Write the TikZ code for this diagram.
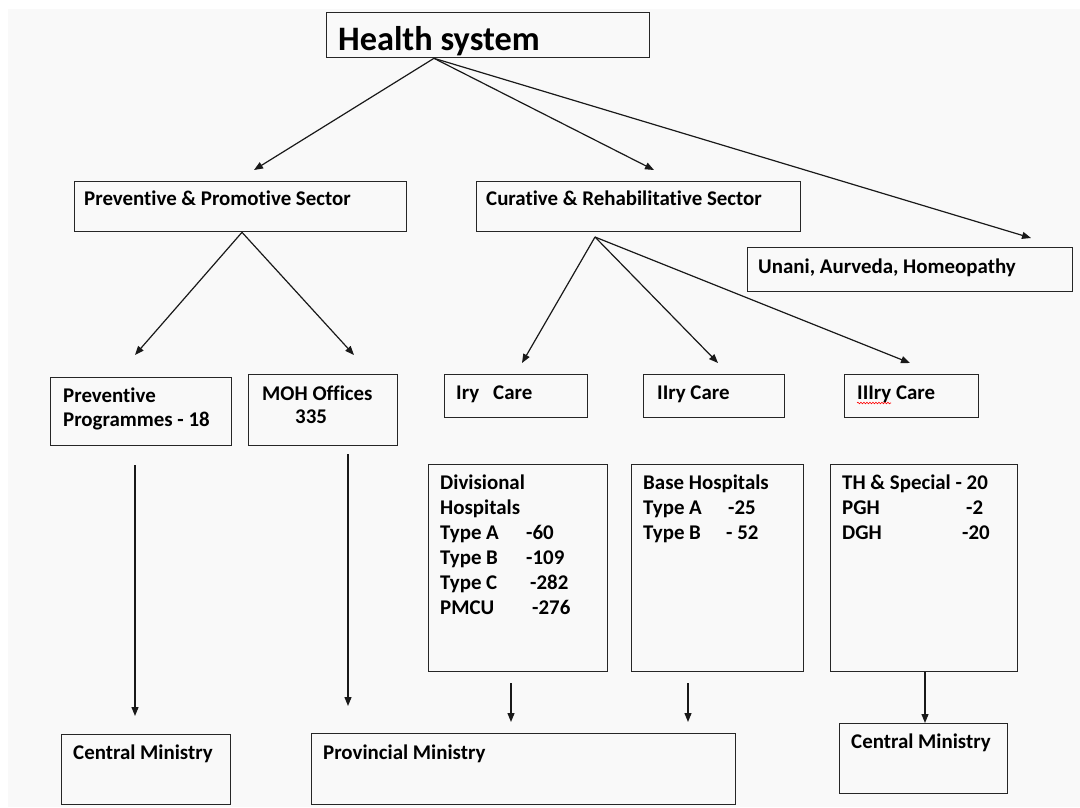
\documentclass[tikz,border=0pt]{standalone}
\usepackage{fontspec}
\setmainfont{Carlito}[Ligatures=NoCommon]
\usetikzlibrary{arrows.meta,decorations.pathmorphing}

\tikzset{
  box/.style={draw=black!85, line width=1.3pt, anchor=north west, inner sep=0pt},
  lbl/.style={anchor=base west, inner sep=0pt, align=left, font=\bfseries\fontsize{20.9}{25}\selectfont},
  link/.style={-{Triangle[length=9pt,width=7pt]}, line width=1.2pt, draw=black!90},
}

\begin{document}
\begin{tikzpicture}[x=1pt, y=-1pt]
  % Canvas
  \useasboundingbox (0,0) rectangle (1080,807);
  \fill[white] (0,0) rectangle (1080,807);
  \fill[black!2.5] (8,9) rectangle (1080,807);

  % Top box
  \node[box, minimum width=323pt, minimum height=45pt] (hs) at (326,12) {};
  \node[lbl, font=\bfseries\fontsize{34.3}{40}\selectfont] (hst) at (338,50) {Health system};

  % Sectors
  \node[box, minimum width=332pt, minimum height=50pt] (pps) at (74,181) {};
  \node[lbl] (ppst) at (84,205) {Preventive \& Promotive Sector};
  \node[box, minimum width=324pt, minimum height=50pt] (crs) at (476,181) {};
  \node[lbl] (crst) at (486,205) {Curative \& Rehabilitative Sector};
  \node[box, minimum width=325pt, minimum height=44pt] (uah) at (747,247) {};
  \node[lbl] (uaht) at (758,273) {Unani, Aurveda, Homeopathy};

  % Programmes, offices and care levels (multi-line texts sit on their last line)
  \node[box, minimum width=181pt, minimum height=68pt] (pp) at (50,377) {};
  \node[lbl, font=\bfseries\fontsize{20.9}{24}\selectfont] (ppt) at (63,426) {Preventive\\Programmes - 18};
  \node[box, minimum width=149pt, minimum height=71pt] (moh) at (248,374) {};
  \node[lbl, font=\bfseries\fontsize{20.9}{23}\selectfont] (moht) at (262,423) {MOH Offices\\\hspace*{33pt}335};
  \node[box, minimum width=143pt, minimum height=43pt] (ic) at (444,374) {};
  \node[lbl] (ict) at (456,399) {Iry\hspace{14pt}Care};
  \node[box, minimum width=141pt, minimum height=43pt] (iic) at (643,374) {};
  \node[lbl] (iict) at (657,399) {IIry Care};
  \node[box, minimum width=134pt, minimum height=43pt] (iiic) at (844,374) {};
  \node[lbl] (iiict) at (857,399) {IIIry Care};
  \draw[red, line width=0.6pt, decorate, decoration={snake, amplitude=0.8pt, segment length=3pt}]
    ([yshift=-4pt]iiict.base west) -- ++(34,0);

  % Hospitals
  \node[box, minimum width=179pt, minimum height=207pt] (div) at (428,464) {};
  \node[lbl] (divt) at (440,614) {Divisional\\Hospitals\\
    \makebox[86pt][l]{Type A}-60\\\makebox[86pt][l]{Type B}-109\\
    \makebox[90pt][l]{Type C}-282\\\makebox[92pt][l]{PMCU}-276};
  \node[box, minimum width=172pt, minimum height=207pt] (base) at (631,464) {};
  \node[lbl] (baset) at (643,539) {Base Hospitals\\
    \makebox[85pt][l]{Type A}-25\\\makebox[83pt][l]{Type B}- 52};
  \node[box, minimum width=187pt, minimum height=207pt] (th) at (830,464) {};
  \node[lbl] (tht) at (842,539) {TH \& Special - 20\\
    \makebox[124pt][l]{PGH}-2\\\makebox[120pt][l]{DGH}-20};

  % Ministries
  \node[box, minimum width=169pt, minimum height=70pt] (cmleft) at (61,734) {};
  \node[lbl] (cmleftt) at (73,759) {Central Ministry};
  \node[box, minimum width=424pt, minimum height=71pt] (prov) at (311,733) {};
  \node[lbl] (provt) at (323,759) {Provincial Ministry};
  \node[box, minimum width=168pt, minimum height=70pt] (cmright) at (839,723) {};
  \node[lbl] (cmrightt) at (851,748) {Central Ministry};

  % Arrow ends
  \coordinate (hsout) at ([xshift=108pt]hs.south west);
  \coordinate (ppsin) at (254,170);
  \coordinate (crsin) at (654,170);
  \coordinate (uahin) at (1031,238);
  \coordinate (ppsout) at ([xshift=168pt]pps.south west);
  \coordinate (ppin) at (135,355);
  \coordinate (mohin) at (354,355);
  \coordinate (crsout) at (595,237);
  \coordinate (icin) at (522,363);
  \coordinate (iicin) at (718,363);
  \coordinate (iiicin) at (910,363);
  \coordinate (ppout) at (135,465);
  \coordinate (cmleftin) at (135,716);
  \coordinate (mohout) at (348,454);
  \coordinate (provinl) at (348,706);
  \coordinate (divout) at (511,683);
  \coordinate (provinm) at (511,722);
  \coordinate (baseout) at (688,683);
  \coordinate (provinr) at (688,722);
  \coordinate (thout) at ([xshift=95pt]th.south west);

  % Arrows
  \draw[link] (hsout) -- (ppsin);
  \draw[link] (hsout) -- (crsin);
  \draw[link] (hsout) -- (uahin);
  \draw[link] (ppsout) -- (ppin);
  \draw[link] (ppsout) -- (mohin);
  \draw[link] (crsout) -- (icin);
  \draw[link] (crsout) -- (iicin);
  \draw[link] (crsout) -- (iiicin);
  \draw[link] (ppout) -- (cmleftin);
  \draw[link] (mohout) -- (provinl);
  \draw[link] (divout) -- (provinm);
  \draw[link] (baseout) -- (provinr);
  \draw[link] (thout) -- (thout |- cmright.north);
\end{tikzpicture}
\end{document}
